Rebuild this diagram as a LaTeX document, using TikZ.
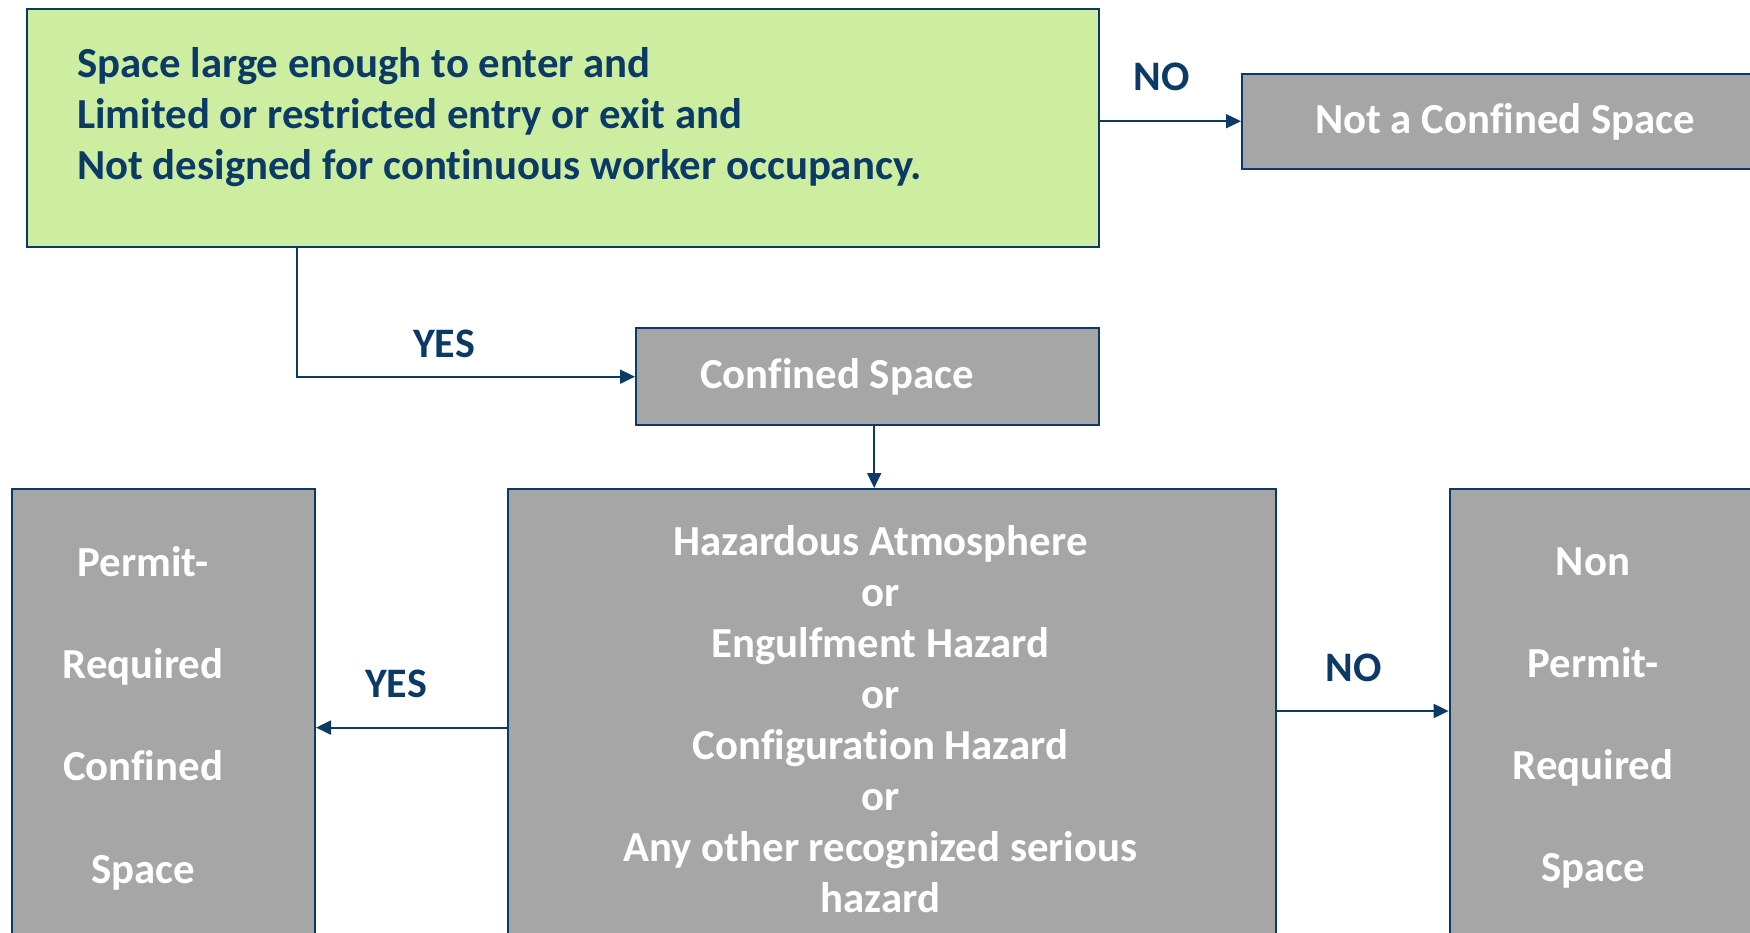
\documentclass[tikz,border=0pt]{standalone}
\usepackage{fontspec}
\setmainfont[Ligatures={NoCommon}]{Carlito}
\usetikzlibrary{arrows.meta,calc}
\definecolor{navy}{HTML}{0B3A66}
\definecolor{boxgreen}{HTML}{CDEDA1}
\definecolor{boxgrey}{HTML}{A6A6A6}
\begin{document}
\begin{tikzpicture}[x=1pt,y=-1pt,
  box/.style={draw=navy, line width=2.4pt, inner sep=0pt, anchor=north west},
  conn/.style={draw=navy, line width=1.9pt, -{Triangle[length=15pt,width=14pt]}},
  lab/.style={text=navy, font=\bfseries\fontsize{42}{48}\selectfont, inner sep=0pt},
  wtxt/.style={text=white, align=center, inner sep=0pt},
  ftxt/.style={font=\bfseries\fontsize{42.8}{#1}\selectfont}]
\useasboundingbox (0,0) rectangle (1750,932);
\clip (0,0) rectangle (1750,932);
% boxes
\node[box, fill=boxgreen, minimum width=1072pt, minimum height=237.7pt] (g) at (25.7,7.8) {};
\node[box, fill=boxgrey, minimum width=529pt, minimum height=95pt] (nc) at (1241,72.5) {};
\node[box, fill=boxgrey, minimum width=463pt, minimum height=97pt] (cs) at (635,327) {};
\node[box, fill=boxgrey, minimum width=767.5pt, minimum height=470pt] (hz) at (507,488) {};
\node[box, fill=boxgrey, minimum width=302.6pt, minimum height=470pt] (lb) at (11,488) {};
\node[box, fill=boxgrey, minimum width=321.4pt, minimum height=470pt] (rb) at (1448.6,488) {};
% texts
\node[text=navy, align=left, anchor=west, inner sep=0pt, ftxt=50.7] (gt) at (77,117)
  {Space large enough to enter and\\Limited or restricted entry or exit and\\Not designed for continuous worker occupancy.};
\node[wtxt, ftxt=50] (nct) at (1505,122) {Not a Confined Space};
\node[wtxt, ftxt=50] (cst) at (837,377) {Confined Space};
\node[wtxt, ftxt=50.9] (hzt) at (880.5,719)
  {Hazardous Atmosphere\\or\\Engulfment Hazard\\or\\Configuration Hazard\\or\\Any other recognized serious\\hazard};
\node[wtxt, ftxt=102.3] (lbt) at (143,718) {Permit-\\Required\\Confined\\Space};
\node[wtxt, ftxt=102.3] (rbt) at (1593,718) {Non\\Permit-\\Required\\Space};
% labels
\node[lab] (no1) at (1162,77) {NO};
\node[lab] (yes1) at (444,343.5) {YES};
\node[lab] (yes2) at (396,684) {YES};
\node[lab] (no2) at (1354,668) {NO};
% connectors
\draw[conn] (g.east |- nc.west) -- (nc.west);
\draw[conn] ($(g.south west)+(271.3,0)$) |- (cs.west);
\draw[conn] ($(cs.south)+(6.5,0)$) -- ($(cs.south |- hz.north)+(6.5,0)$);
\draw[conn] ($(hz.north west)+(0,239.6)$) -- ($(lb.north east)+(0,239.6)$);
\draw[conn] ($(hz.north east)+(0,223)$) -- ($(rb.north west)+(0,223)$);
\end{tikzpicture}
\end{document}
